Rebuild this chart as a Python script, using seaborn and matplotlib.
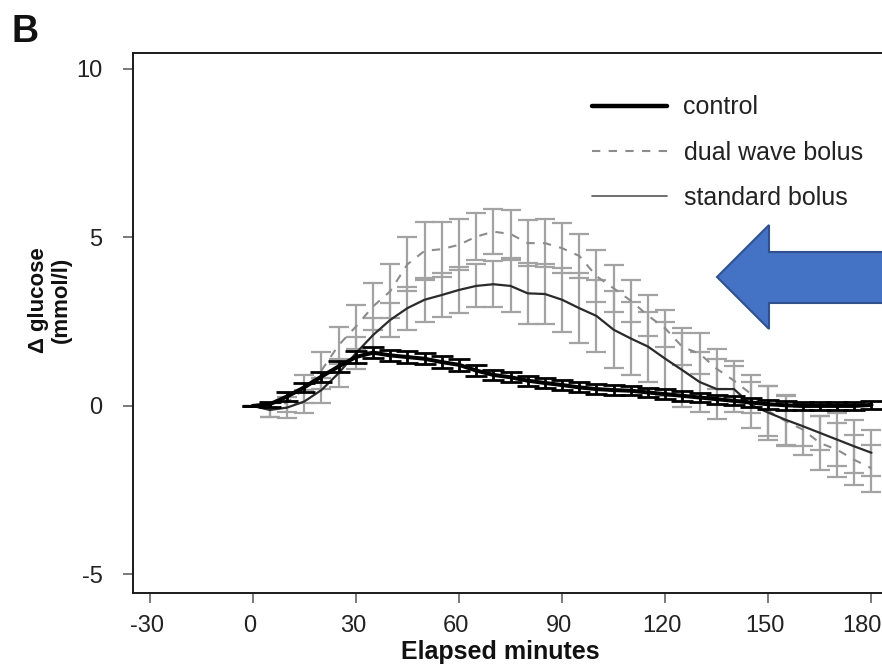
import numpy as np
import pandas as pd
import matplotlib
matplotlib.use("Agg")
import matplotlib.pyplot as plt
from matplotlib.patches import Polygon
from matplotlib.lines import Line2D
from matplotlib.transforms import ScaledTranslation
import seaborn as sns

# ---------------- data ----------------
minutes = list(range(0, 181, 5))

control = [0.0, 0.05, 0.28, 0.55, 0.87, 1.17, 1.45, 1.58, 1.50, 1.45, 1.40, 1.30,
           1.22, 1.05, 0.92, 0.85, 0.75, 0.68, 0.62, 0.55, 0.50, 0.47, 0.45, 0.40,
           0.35, 0.30, 0.25, 0.20, 0.15, 0.10, 0.05, 0.02, 0.00, 0.00, 0.00, 0.00, 0.03]
control_err = [0.0, 0.08, 0.12, 0.14, 0.15, 0.16, 0.17, 0.17, 0.17, 0.17, 0.17, 0.17,
               0.17, 0.16, 0.16, 0.15, 0.15, 0.15, 0.15, 0.15, 0.15, 0.14, 0.14, 0.14,
               0.14, 0.14, 0.13, 0.13, 0.13, 0.13, 0.13, 0.13, 0.12, 0.12, 0.12, 0.12, 0.12]

dual_wave = [0.0, -0.12, 0.10, 0.50, 1.05, 1.80, 2.35, 2.95, 3.40, 4.20, 4.60, 4.65,
             4.78, 5.02, 5.17, 5.10, 4.83, 4.83, 4.68, 4.45, 3.85, 3.49, 3.12, 2.68,
             2.30, 1.75, 1.55, 1.10, 0.75, 0.35, -0.15, -0.45, -0.70, -1.10, -1.30, -1.60, -1.85]
dual_wave_err = [0.0, 0.20, 0.28, 0.42, 0.55, 0.55, 0.65, 0.70, 0.80, 0.80, 0.85, 0.82,
                 0.76, 0.70, 0.67, 0.70, 0.69, 0.71, 0.74, 0.65, 0.78, 0.69, 0.62, 0.62,
                 0.55, 0.55, 0.60, 0.60, 0.57, 0.57, 0.75, 0.75, 0.75, 0.80, 0.80, 0.74, 0.69]

standard = [0.0, -0.12, -0.05, 0.13, 0.47, 0.97, 1.56, 2.10, 2.55, 2.90, 3.15, 3.29,
            3.44, 3.56, 3.61, 3.56, 3.34, 3.32, 3.15, 2.90, 2.67, 2.26, 2.00, 1.76,
            1.40, 1.06, 0.71, 0.50, 0.50, 0.03, -0.20, -0.41, -0.60, -0.80, -1.00, -1.20, -1.39]
standard_err = [0.0, 0.22, 0.30, 0.35, 0.37, 0.42, 0.47, 0.50, 0.50, 0.64, 0.65, 0.64,
                0.69, 0.64, 0.69, 0.76, 0.91, 0.89, 0.95, 1.04, 1.06, 1.14, 1.08, 1.04,
                1.10, 1.10, 0.90, 0.90, 0.67, 0.69, 0.80, 0.74, 0.58, 0.50, 0.78, 0.78, 0.68]

labels = ["control", "dual wave bolus", "standard bolus"]
x_ticks = [-30, 0, 30, 60, 90, 120, 150, 180]
y_ticks = [-5, 0, 5, 10]

# ---------------- style ----------------
sns.set_style("ticks")
plt.rcParams['font.family'] = ['Liberation Sans', 'DejaVu Sans']

W, H = 882, 672
fig = plt.figure(figsize=(W / 100, H / 100), dpi=100)
ax = fig.add_axes([133 / W, 1 - 593 / H, (888 - 133) / W, (593 - 53) / H])

df = pd.DataFrame({
    "minutes": minutes * 3,
    "value": control + dual_wave + standard,
    "group": [labels[0]] * len(minutes) + [labels[1]] * len(minutes) + [labels[2]] * len(minutes),
})

gray = "#a3a3a3"
# error bars of the two bolus groups
ax.errorbar(minutes, dual_wave, yerr=dual_wave_err, fmt="none", ecolor=gray,
            elinewidth=1.6, capsize=7.5, capthick=1.6, zorder=1)
ax.errorbar(minutes, standard, yerr=standard_err, fmt="none", ecolor=gray,
            elinewidth=1.6, capsize=7.5, capthick=1.6, zorder=1)

sns.lineplot(data=df[df.group == labels[1]], x="minutes", y="value", ax=ax,
             color="#8c8c8c", lw=1.5, linestyle=(0, (4, 4)), zorder=2, legend=False)
sns.lineplot(data=df[df.group == labels[2]], x="minutes", y="value", ax=ax,
             color="#2b2b2b", lw=1.6, zorder=3, legend=False)

ax.errorbar(minutes, control, yerr=control_err, fmt="none", ecolor="black",
            elinewidth=2.0, capsize=8, capthick=2.0, zorder=4)
sns.lineplot(data=df[df.group == labels[0]], x="minutes", y="value", ax=ax,
             color="black", lw=2.9, zorder=5, legend=False)

ax.set_xlim(-34.8, 184.8)
ax.set_ylim(-5.55, 10.47)
ax.set_xticks(x_ticks)
ax.set_yticks(y_ticks)
ax.set_xticklabels([str(v) for v in x_ticks])
ax.set_yticklabels([str(v) for v in y_ticks])
ax.set_xlabel("")
ax.set_ylabel("")
for s in ax.spines.values():
    s.set_linewidth(1.4)
    s.set_color("#1a1a1a")
ax.tick_params(axis="x", length=7, width=1.1, colors="#555555", labelcolor="#222222",
               labelsize=17, pad=9)
ax.tick_params(axis="y", length=7, width=1.1, colors="#555555", labelcolor="#222222",
               labelsize=17, pad=15)
xlabs = ax.get_xticklabels()
for i, lab in enumerate(xlabs):
    dx = -10 if i == len(xlabs) - 1 else -3
    lab.set_transform(lab.get_transform() + ScaledTranslation(dx / 100, 0, fig.dpi_scale_trans))

# legend
handles = [
    Line2D([], [], color="black", lw=3.2),
    Line2D([], [], color="#8c8c8c", lw=1.5, linestyle=(0, (4, 4))),
    Line2D([], [], color="#555555", lw=1.2),
]
leg = ax.legend(handles, labels, loc="upper left", bbox_to_anchor=(579 / W, 1 - 83 / H),
                bbox_transform=fig.transFigure, frameon=False, fontsize=18,
                handlelength=3.0, handletextpad=0.68, labelspacing=0.85, borderpad=0)
for t in leg.get_texts():
    t.set_color("#222222")

# axis labels and panel letter
fig.text(500 / W, 1 - 652 / H, "Elapsed minutes", ha="center", va="center",
         fontsize=18, fontweight="bold", color="#111111")
fig.text(50 / W, 1 - 300 / H, "\u0394 glucose\n(mmol/l)", ha="center", va="center",
         rotation=90, fontsize=16, fontweight="bold", color="#111111", linespacing=1.1)
fig.text(12 / W, 1 - 42 / H, "B", ha="left", va="baseline", fontsize=27,
         fontweight="bold", color="#111111")

# blue arrow annotation
arrow_pts = [(717, 277), (769, 225), (769, 252), (900, 252), (900, 303), (769, 303), (769, 329)]
arrow = Polygon([(x / W, 1 - y / H) for x, y in arrow_pts], closed=True,
                transform=fig.transFigure, facecolor="#4472C4", edgecolor="#2F528F",
                linewidth=1.5, zorder=10)
fig.patches.append(arrow)

fig.savefig("out.png", dpi=100)
